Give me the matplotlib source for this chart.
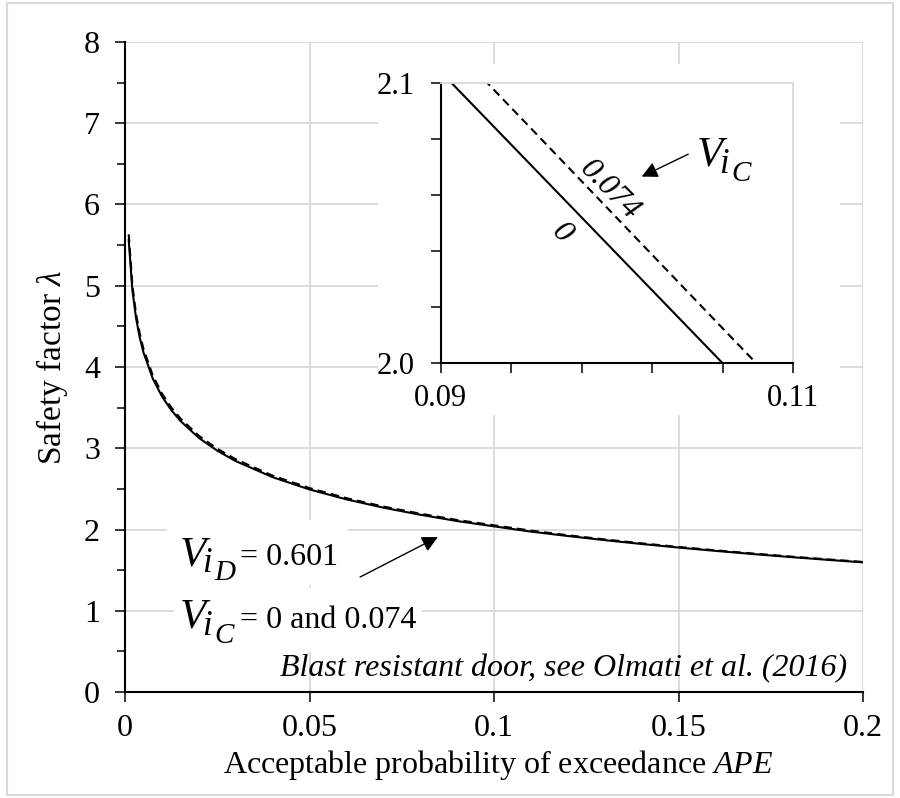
import matplotlib
matplotlib.use("Agg")
import matplotlib.pyplot as plt
from matplotlib.patches import Rectangle

# APE values and safety factor
ape = [0.001, 0.002, 0.003, 0.004, 0.005, 0.0075, 0.01, 0.0125, 0.015, 0.02,
       0.025, 0.03, 0.04, 0.05, 0.06, 0.07, 0.08, 0.09, 0.095, 0.1,
       0.105, 0.11, 0.12, 0.13, 0.14, 0.15, 0.16, 0.17, 0.18, 0.19, 0.2]
lam_vic0 = [5.562, 4.945, 4.599, 4.361, 4.180, 3.860, 3.639, 3.472, 3.337, 3.128,
            2.970, 2.842, 2.644, 2.493, 2.371, 2.269, 2.182, 2.104, 2.0715, 2.039,
            2.0065, 1.974, 1.9203, 1.8692, 1.8219, 1.7780, 1.7371, 1.6988, 1.6624, 1.6282, 1.5957]
lam_vic074 = [5.633, 5.004, 4.651, 4.409, 4.224, 3.899, 3.674, 3.504, 3.367, 3.154,
              2.994, 2.864, 2.663, 2.510, 2.386, 2.283, 2.195, 2.1173, 2.0846, 2.0518,
              2.0190, 1.9863, 1.9296, 1.8779, 1.8300, 1.7856, 1.7442, 1.7055, 1.6686, 1.6341, 1.6012]

main_xticks = [0, 0.05, 0.1, 0.15, 0.2]
main_xlabels = ["0", "0.05", "0.1", "0.15", "0.2"]
inset_xticks = [0.09, 0.094, 0.098, 0.102, 0.106, 0.11]
inset_xlabels = ["0.09", "", "", "", "", "0.11"]
inset_yticks = [2.0, 2.02, 2.04, 2.06, 2.08, 2.1]
inset_ylabels = ["2.0", "", "", "", "", "2.1"]

plt.rcParams["font.family"] = ["Liberation Serif", "DejaVu Serif"]
plt.rcParams["mathtext.fontset"] = "custom"
plt.rcParams["mathtext.rm"] = "Liberation Serif"
plt.rcParams["mathtext.it"] = "Liberation Serif:italic"

grey = "#d9d9d9"
fs = 23


def v_label(a, x, y, sub, rest=None):
    # V with subscript i and a second subscript, Excel equation style
    kw = dict(xycoords="data", textcoords="offset points", ha="left", va="baseline",
              style="italic", annotation_clip=False)
    a.annotate("V", (x, y), xytext=(0, 0), fontsize=31, **kw)
    a.annotate("i", (x, y), xytext=(16, -5), fontsize=25, **kw)
    a.annotate(sub, (x, y), xytext=(24.5, -11), fontsize=21, **kw)
    if rest:
        a.annotate(rest, (x, y), xytext=(43, 0), textcoords="offset points",
                   ha="left", va="baseline", fontsize=fs)


fig = plt.figure(figsize=(9, 7.98), dpi=100)
fig.patches.append(Rectangle((0.008, 0.004), 0.984, 0.992, transform=fig.transFigure,
                             fill=False, edgecolor=grey, lw=1.5))

# main chart
ax = fig.add_axes([0.1389, 0.1328, 0.82, 0.8146])
ax.plot(ape, lam_vic074, color="black", ls="--", dashes=(4, 2.5), lw=1.5)
ax.plot(ape, lam_vic0, color="black", lw=1.5)
ax.set_xlim(0, 0.2)
ax.set_ylim(0, 8)
ax.set_xticks(main_xticks)
ax.set_xticklabels(main_xlabels)
ax.set_yticks(range(0, 9))
ax.set_yticks([i + 0.5 for i in range(8)], minor=True)
ax.grid(True, color=grey, lw=1.3)
ax.set_axisbelow(True)
for s in ["top", "right"]:
    ax.spines[s].set_visible(False)
for s in ["left", "bottom"]:
    ax.spines[s].set_linewidth(1.5)
ax.tick_params(axis="both", which="major", direction="out", length=7, width=1.1, labelsize=fs)
ax.tick_params(axis="y", which="major", pad=11)
ax.tick_params(axis="x", which="major", pad=9)
ax.tick_params(axis="y", which="minor", direction="out", length=5.5, width=1.1)
ax.set_ylabel(r"Safety factor $\lambda$", fontsize=24)
ax.set_xlabel(r"Acceptable probability of exceedance $APE$", fontsize=fs)
ax.yaxis.set_label_coords(-0.075, 0.5)
ax.xaxis.set_label_coords(0.506, -0.086)

# white boxes behind the annotations
ax.add_patch(Rectangle((0.0114, 1.317), 0.049, 0.80, facecolor="white", edgecolor="none", zorder=1))
ax.add_patch(Rectangle((0.0133, 0.49), 0.0672, 0.79, facecolor="white", edgecolor="none", zorder=1))

v_label(ax, 0.0149, 1.563, "D", "= 0.601")
v_label(ax, 0.0149, 0.788, "C", "= 0 and 0.074")
ax.annotate("", xy=(0.0848, 1.908), xytext=(0.0637, 1.415),
            arrowprops=dict(arrowstyle="-|>", color="black", lw=1, mutation_scale=24,
                            shrinkA=0, shrinkB=0))
ax.text(0.1957, 0.197, "Blast resistant door, see Olmati et al. (2016)",
        fontsize=fs, style="italic", ha="right", va="baseline")

# white area of the inset chart
fig.patches.append(Rectangle((378 / 900, 1 - 415 / 798), 462 / 900, 351 / 798,
                             transform=fig.transFigure, facecolor="white",
                             edgecolor="none", zorder=1))

# inset
axi = fig.add_axes([0.4897, 0.5447, 0.3917, 0.3513])
axi.set_zorder(2)
axi.plot(ape, lam_vic074, color="black", ls="--", dashes=(4, 2.5), lw=1.5)
axi.plot(ape, lam_vic0, color="black", lw=1.5)
axi.set_xlim(0.09, 0.11)
axi.set_ylim(2.0, 2.1)
axi.set_xticks(inset_xticks)
axi.set_xticklabels(inset_xlabels)
axi.set_yticks(inset_yticks)
axi.set_yticklabels(inset_ylabels)
for s in ["top", "right"]:
    axi.spines[s].set_color(grey)
    axi.spines[s].set_linewidth(1.3)
for s in ["left", "bottom"]:
    axi.spines[s].set_linewidth(1.5)
axi.tick_params(axis="both", direction="out", length=7, width=1.1, labelsize=22)
axi.tick_params(axis="y", pad=12)
axi.tick_params(axis="x", pad=8)

axi.text(0.0996, 2.0618, "0.074", fontsize=fs, style="italic", rotation=-45,
         ha="center", va="center", rotation_mode="anchor")
axi.text(0.09686, 2.0465, "0", fontsize=fs, style="italic", rotation=-45,
         ha="center", va="center", rotation_mode="anchor")
axi.annotate("", xy=(0.1014, 2.0666), xytext=(0.10404, 2.0746),
             arrowprops=dict(arrowstyle="-|>", color="black", lw=1, mutation_scale=24,
                             shrinkA=0, shrinkB=0))
v_label(axi, 0.10454, 2.0704, "C")

fig.savefig("out.png", dpi=100)
